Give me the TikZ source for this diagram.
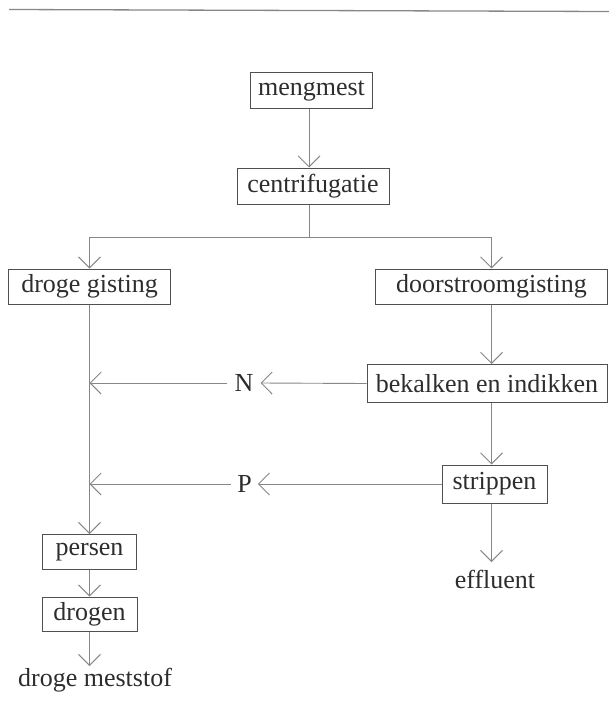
\documentclass[tikz,border=0pt]{standalone}
\usepackage{fontspec}
\setmainfont{Liberation Serif}
\usetikzlibrary{arrows.meta}
\definecolor{linecol}{RGB}{135,135,135}
\definecolor{boxcol}{RGB}{80,80,80}
\definecolor{txtcol}{RGB}{45,45,45}
\begin{document}
\begin{tikzpicture}[x=1pt,y=-1pt,
  box/.style={draw=boxcol, line width=1pt, text=txtcol, inner sep=0pt, font=\fontsize{26}{31}\selectfont},
  txt/.style={text=txtcol, inner sep=0pt, font=\fontsize{26}{31}\selectfont},
  conn/.style={draw=linecol, line width=0.9pt},
  arr/.style={conn, -{Straight Barb[length=11pt,width=22pt,line width=0.9pt]}}]
\useasboundingbox (0,0) rectangle (609,712);
% scan edge line at top
\draw[draw=linecol, line width=1.3pt] (9,9.5) -- (609,11.5);
% boxes
\node[box, minimum width=122pt, minimum height=36pt] (meng) at (311.5,90.5) {mengmest};
\node[box, minimum width=152pt, minimum height=36pt] (centr) at (313,186) {centrifugatie};
\node[box, minimum width=162pt, minimum height=35pt] (droog) at (89.5,286.5) {droge gisting};
\node[box, minimum width=232pt, minimum height=35pt] (door) at (491.5,286.5) {doorstroomgisting};
\node[box, minimum width=240pt, minimum height=38pt] (bek) at (487,383.5) {bekalken en indikken};
\node[box, minimum width=105pt, minimum height=38pt] (strip) at (494.5,484) {strippen};
\node[box, minimum width=94pt, minimum height=35pt] (pers) at (89.5,552) {persen};
\node[box, minimum width=95pt, minimum height=34pt] (drog) at (89.5,614) {drogen};
% free texts
\node[txt, anchor=base] (mest) at (95,686) {droge meststof};
\node[txt, anchor=base] (eff) at (495,588) {effluent};
\node[txt, inner xsep=7pt] (N) at (244,383) {N};
\node[txt, inner xsep=6pt] (P) at (244.5,484) {P};
% coordinates
\coordinate (split) at (309,237);
\coordinate (Nend) at (89.5,383);
\coordinate (Pend) at (89.5,484);
\coordinate (effin) at (491.5,562);
\coordinate (mestin) at (89.5,666);
% connectors
\draw[arr] (meng.south -| split) -- (centr.north -| split);
\draw[conn] (centr.south -| split) -- (split);
\draw[arr] (split) -| (droog.north);
\draw[arr] (split) -| (door.north);
\draw[arr] (door.south) -- (door.south |- bek.north);
\draw[arr] (door.south |- bek.south) -- (door.south |- strip.north);
\draw[arr] (door.south |- strip.south) -- (effin);
\draw[arr] (bek.west) -- (N.east);
\draw[arr] (N.west) -- (Nend);
\draw[arr] (strip.west) -- (P.east);
\draw[arr] (P.west) -- (Pend);
\draw[arr] (droog.south) -- (pers.north);
\draw[arr] (pers.south) -- (drog.north);
\draw[arr] (drog.south) -- (mestin);
\end{tikzpicture}
\end{document}
